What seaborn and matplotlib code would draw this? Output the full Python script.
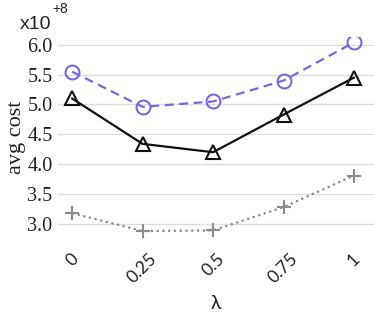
import matplotlib
matplotlib.use("Agg")
import matplotlib.pyplot as plt
import seaborn as sns
import pandas as pd

lam = [0, 0.25, 0.5, 0.75, 1]
lam_labels = ["0", "0.25", "0.5", "0.75", "1"]
circle_vals = [5.55, 4.96, 5.05, 5.40, 6.04]
triangle_vals = [5.10, 4.34, 4.20, 4.83, 5.45]
plus_vals = [3.18, 2.88, 2.89, 3.28, 3.81]

sns.set_style("white")
fig = plt.figure(figsize=(3.74, 3.13), dpi=100)
ax = fig.add_axes([58/374, 1-237/313, 1-58/374, 200/313])

df_c = pd.DataFrame({"lam": lam, "v": circle_vals})
df_t = pd.DataFrame({"lam": lam, "v": triangle_vals})
df_p = pd.DataFrame({"lam": lam, "v": plus_vals})

purple = "#7B68DB"
gray = "#8a8a8a"
sns.lineplot(data=df_c, x="lam", y="v", ax=ax, color=purple, linestyle=(0, (4, 2.5)),
             marker="o", markersize=10, markerfacecolor="none", markeredgecolor=purple,
             markeredgewidth=1.5, linewidth=1.6)
sns.lineplot(data=df_t, x="lam", y="v", ax=ax, color="#111111", linestyle="-",
             marker="^", markersize=10, markerfacecolor="none", markeredgecolor="#111111",
             markeredgewidth=1.5, linewidth=1.6)
sns.lineplot(data=df_p, x="lam", y="v", ax=ax, color=gray, linestyle=(0, (1, 1.6)),
             marker="+", markersize=10, markeredgecolor=gray, markerfacecolor=gray,
             markeredgewidth=1.5, linewidth=1.6)

ax.set_xlim(-0.05, 1.071)
ax.set_ylim(2.78, 6.13)
ax.set_yticks([3.0, 3.5, 4.0, 4.5, 5.0, 5.5, 6.0])
ax.set_yticklabels(["3.0", "3.5", "4.0", "4.5", "5.0", "5.5", "6.0"],
                   fontfamily="Liberation Serif", fontsize=14.5, color="#222222")
ax.set_xticks(lam)
ax.set_xticklabels(lam_labels, rotation=45, fontfamily="Lato", fontsize=12.5, color="#222222")
ax.grid(axis="y", color="#dddddd", linewidth=1)
ax.grid(axis="x", visible=False)
for s in ax.spines.values():
    s.set_visible(False)
ax.tick_params(axis="y", length=0, pad=4)
ax.tick_params(axis="x", length=0, pad=10)
ax.set_ylabel("avg cost", fontfamily="Liberation Serif", fontsize=16, color="#222222", labelpad=1)
ax.set_xlabel("λ", fontfamily="Lato", fontsize=14, color="#222222", labelpad=6)

fig.text(20/374, 1-29/313, "x10", fontfamily="Liberation Sans", fontsize=14, color="#222222")
fig.text(52/374, 1-13/313, "+8", fontfamily="Liberation Sans", fontsize=10, color="#222222")

fig.savefig("out.png", dpi=100)
